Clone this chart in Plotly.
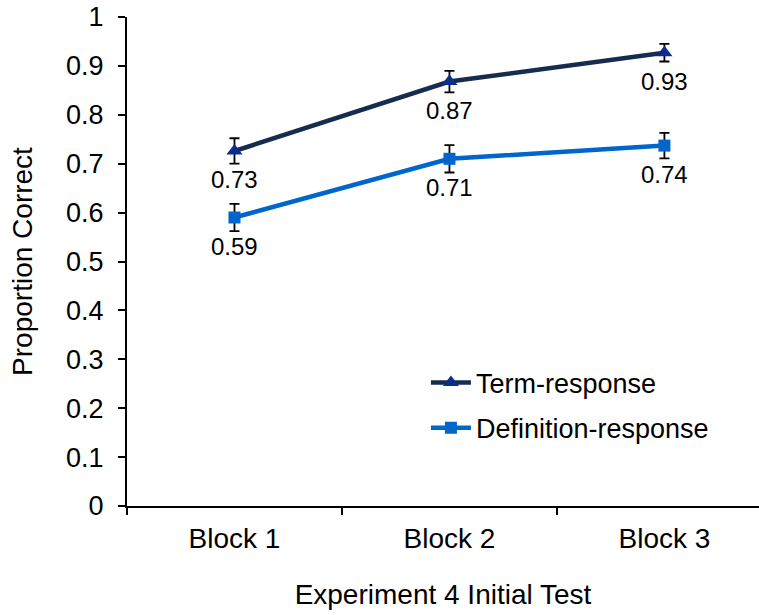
import plotly.graph_objects as go

blocks = ["Block 1", "Block 2", "Block 3"]
term_vals = [0.726, 0.868, 0.927]
term_err = [0.026, 0.022, 0.018]
term_labels = ["0.73", "0.87", "0.93"]
def_vals = [0.590, 0.710, 0.737]
def_err = [0.028, 0.028, 0.026]
def_labels = ["0.59", "0.71", "0.74"]

FONT = "Liberation Sans, Arial, sans-serif"
BIG = 28

fig = go.Figure()
fig.add_trace(go.Scatter(
    x=blocks, y=term_vals, name="Term-response", mode="lines+markers",
    line=dict(color="#172b4d", width=4.5),
    marker=dict(symbol="triangle-up", size=14, color="#0b2d8c"),
    error_y=dict(type="data", array=term_err, color="black", thickness=1.8, width=5),
    legendgroup="a",
))
fig.add_trace(go.Scatter(
    x=blocks, y=def_vals, name="Definition-response", mode="lines+markers",
    line=dict(color="#0066cc", width=4.5),
    marker=dict(symbol="square", size=12, color="#0066cc"),
    error_y=dict(type="data", array=def_err, color="black", thickness=1.8, width=5),
    legendgroup="b",
))

annotations = []
for vals, labs in ((term_vals, term_labels), (def_vals, def_labels)):
    for b, v, t in zip(blocks, vals, labs):
        annotations.append(dict(x=b, y=v, text=t, showarrow=False, yshift=-29,
                                font=dict(size=24, color="black", family=FONT)))

fig.update_layout(
    width=759, height=615,
    margin=dict(l=127, r=0, t=17, b=109),
    paper_bgcolor="white", plot_bgcolor="white",
    font=dict(family=FONT, size=BIG, color="black"),
    showlegend=True,
    legend=dict(x=0.473, y=0.2055, xanchor="left", yanchor="middle",
                font=dict(size=BIG - 1, family=FONT, color="black"), tracegroupgap=7,
                bgcolor="rgba(0,0,0,0)", itemwidth=40),
    annotations=annotations,
    xaxis=dict(
        type="category", range=[-0.5, 2.44],
        showline=True, linecolor="black", linewidth=2,
        ticks="outside", ticklen=7, tickwidth=2, tickcolor="black",
        tickson="boundaries", showgrid=False, zeroline=False,
        ticklabelstandoff=6,
        tickfont=dict(size=BIG, family=FONT, color="black"),
        title=dict(text="Experiment 4 Initial Test", standoff=32,
                   font=dict(size=BIG, family=FONT, color="black")),
    ),
    yaxis=dict(
        range=[0, 1], dtick=0.1, tickformat="~g",
        showline=True, linecolor="black", linewidth=2,
        ticks="outside", ticklen=7, tickwidth=2, tickcolor="black",
        showgrid=False, zeroline=False,
        ticklabelstandoff=9,
        tickfont=dict(size=BIG - 1, family=FONT, color="black"),
        title=dict(text="Proportion Correct", standoff=25,
                   font=dict(size=BIG, family=FONT, color="black")),
    ),
)

fig.write_html("out.html")
